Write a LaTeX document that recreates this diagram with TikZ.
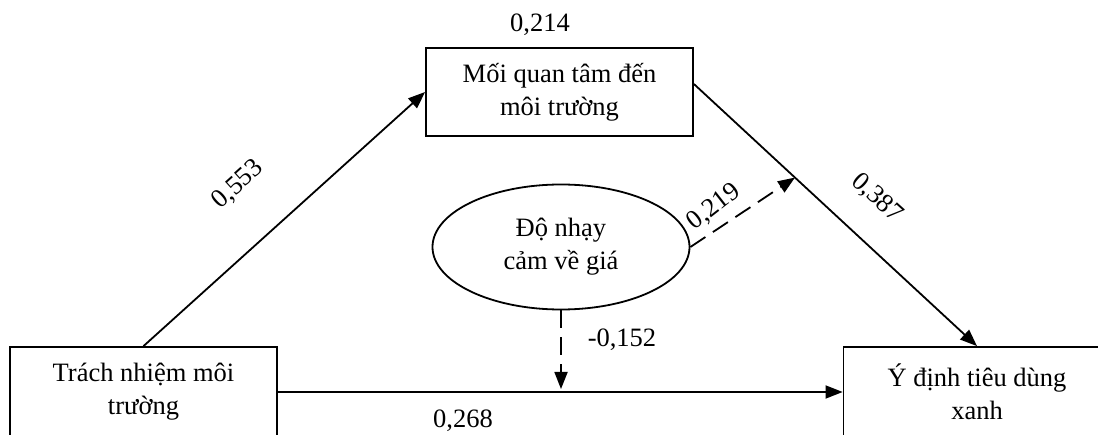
\documentclass[tikz,border=0pt]{standalone}
\usepackage{fontspec}
\setmainfont{Liberation Serif}
\usetikzlibrary{shapes.geometric,arrows.meta,calc}
\begin{document}
\begin{tikzpicture}[x=1pt,y=-1pt,
  every node/.style={font=\fontsize{26.5}{33}\selectfont},
  boxnode/.style={draw,line width=1.8pt,minimum width=267pt,minimum height=90pt,align=center,inner sep=0pt},
  ellnode/.style={draw,ellipse,line width=1.8pt,minimum width=257pt,minimum height=125pt,align=center,inner sep=0pt},
  arr/.style={line width=1.8pt,-{Triangle[length=17pt,width=13pt]}},
  darr/.style={arr,dash pattern=on 18pt off 9pt},
  lab/.style={inner sep=0pt}]
\clip (0,0) rectangle (1098,435);
\fill[white] (0,0) rectangle (1098,435);
\node[boxnode] (L) at (143.5,392) {Trách nhiệm môi\\trường};
\node[boxnode] (R) at (977,392) {Ý định tiêu dùng\\xanh};
\node[boxnode,minimum height=88pt] (T) at (559.5,92) {Mối quan tâm đến\\môi trường};
\node[ellnode] (E) at (561,247) {Độ nhạy\\cảm về giá};
\coordinate (ts) at ([yshift=8pt]T.east);
\coordinate (m2) at ($(ts)!0.357!(R.north)$);
\coordinate (m1) at (E.south |- L.east);
\draw[arr] (L.north) -- (T.west);
\draw[arr] (ts) -- (R.north);
\draw[arr] (L.east) -- (R.west);
\draw[darr] (E.south) -- ([yshift=3pt]m1);
\draw[darr] (E.east) -- (m2);
\node[lab] (l214) at (540,25) {0,214};
\node[lab,rotate=42] (l553) at (238,185) {0,553};
\node[lab,rotate=-42] (l387) at (877,198) {0,387};
\node[lab,rotate=38] (l219) at (714,207) {0,219};
\node[lab] (l152) at (622,340) {-0,152};
\node[lab] (l268) at (463,421) {0,268};
\end{tikzpicture}
\end{document}
